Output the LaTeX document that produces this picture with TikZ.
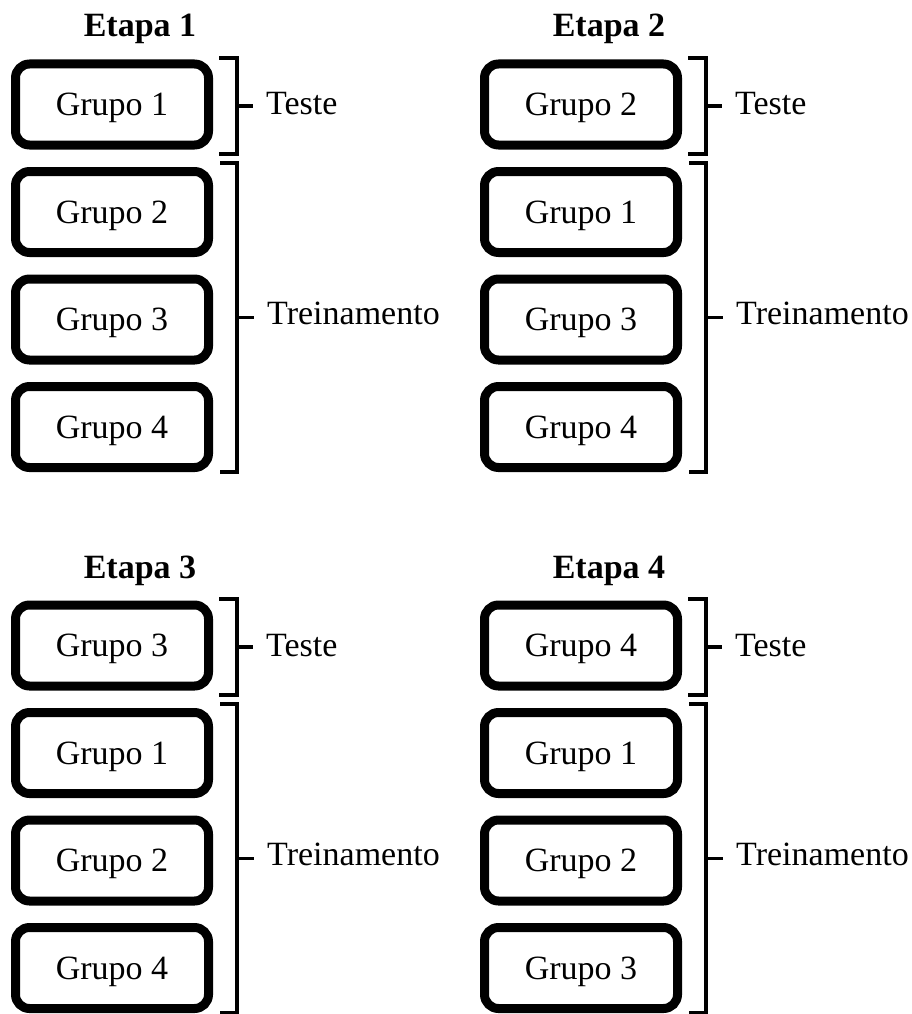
\documentclass[tikz,border=0pt]{standalone}
\usepackage{fontspec}
\setmainfont{Liberation Serif}
\tikzset{
  grp/.style={draw, line width=9pt, rounded corners=14pt, minimum width=193pt,
    minimum height=81pt, inner sep=0pt, text depth=0pt,
    font=\fontsize{34}{40}\selectfont},
  brk/.style={line width=3.5pt},
  lbl/.style={anchor=base west, inner sep=0pt, font=\fontsize{34}{40}\selectfont},
  ttl/.style={anchor=base, inner sep=0pt, font=\bfseries\fontsize{34}{40}\selectfont}
}
\newcommand\etapa[8]{%
  \begin{scope}[shift={(#1,#2)}]
    \node[ttl] (#3t) at (140,37) {Etapa #4};
    \node[grp] (#3a) at (112,104.5) {Grupo #5};
    \node[grp] (#3b) at (112,212) {Grupo #6};
    \node[grp] (#3c) at (112,319.5) {Grupo #7};
    \node[grp] (#3d) at (112,427) {Grupo #8};
    \coordinate (#3p1) at (236,106);
    \coordinate (#3p2) at (236,317.5);
    \draw[brk] (219,58) -- (237,58) -- (237,154) -- (219,154);
    \draw[brk] (220,163) -- (237,163) -- (237,472) -- (220,472);
    \node[lbl] (#3te) at (266,115) {Teste};
    \node[lbl] (#3tr) at (267,324) {Treinamento};
    \draw[brk] (#3p1) -- ([xshift=-13pt]#3p1 -| #3te.west);
    \draw[brk] (#3p2) -- ([xshift=-13pt]#3p2 -| #3tr.west);
  \end{scope}}
\begin{document}
\begin{tikzpicture}[x=1pt,y=-1pt]
  \useasboundingbox (0,0) rectangle (911,1014);
  \etapa{0}{0}{e1}{1}{1}{2}{3}{4}
  \etapa{469}{0}{e2}{2}{2}{1}{3}{4}
  \etapa{0}{541}{e3}{3}{3}{1}{2}{4}
  \etapa{469}{541}{e4}{4}{4}{1}{2}{3}
\end{tikzpicture}
\end{document}
